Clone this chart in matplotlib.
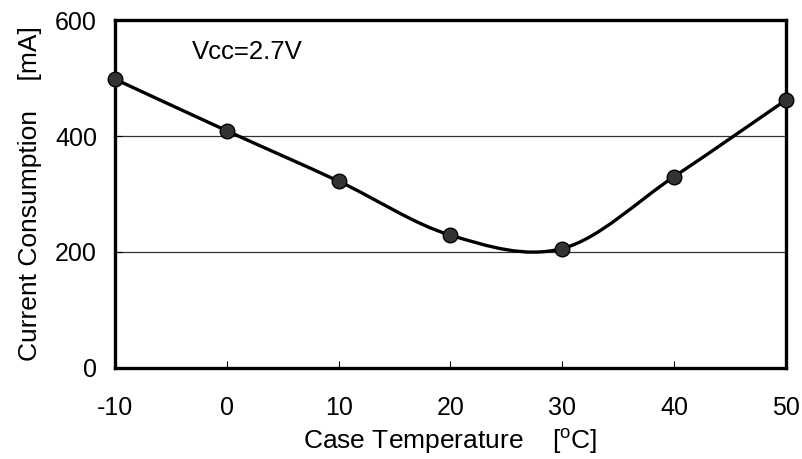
import numpy as np
import matplotlib
matplotlib.use("Agg")
import matplotlib.pyplot as plt
from matplotlib.path import Path
from matplotlib.patches import PathPatch

plt.rcParams['font.family'] = ['Liberation Sans', 'DejaVu Sans']
plt.rcParams['axes.unicode_minus'] = False

temps = [-10, 0, 10, 20, 30, 40, 50]
current = [498, 409, 322, 229, 206, 330, 462]
y_ticks = [0, 200, 400, 600]
x_ticks = [-10, 0, 10, 20, 30, 40, 50]


def smooth_path(xs, ys):
    # Excel-style smoothed line: cubic bezier segments with Catmull-Rom tangents
    n = len(xs)
    verts = [(xs[0], ys[0])]
    codes = [Path.MOVETO]
    for i in range(n - 1):
        x0, y0 = xs[max(i - 1, 0)], ys[max(i - 1, 0)]
        x1, y1 = xs[i], ys[i]
        x2, y2 = xs[i + 1], ys[i + 1]
        x3, y3 = xs[min(i + 2, n - 1)], ys[min(i + 2, n - 1)]
        c1 = (x1 + (x2 - x0) / 6, y1 + (y2 - y0) / 6)
        c2 = (x2 - (x3 - x1) / 6, y2 - (y3 - y1) / 6)
        verts += [c1, c2, (x2, y2)]
        codes += [Path.CURVE4] * 3
    return Path(verts, codes)


fig = plt.figure(figsize=(8.03, 4.59), dpi=100)
ax = fig.add_axes([0.1432, 0.1983, 0.8356, 0.7581])

for yv in [200, 400]:
    ax.axhline(yv, color='#333333', lw=0.9, zorder=1)

ax.add_patch(PathPatch(smooth_path(temps, current), fill=False,
                       edgecolor='black', lw=2.4, zorder=3, capstyle='round'))
ax.plot(temps, current, ls='none', marker='o', ms=10.5, mfc='#333333',
        mec='black', mew=1.0, zorder=4, clip_on=False)

ax.set_xlim(-10, 50)
ax.set_ylim(0, 600)
ax.set_xticks(x_ticks)
ax.set_yticks(y_ticks)
ax.tick_params(axis='x', direction='in', length=5, width=0.8, pad=20, labelsize=18)
ax.tick_params(axis='y', direction='in', length=5, width=0.8, pad=13, labelsize=18)
for s in ax.spines.values():
    s.set_linewidth(2.4)

ax.text(-3.1, 545, 'Vcc=2.7V', fontsize=18.5, ha='left', va='center')
ax.set_xlabel('Case Temperature    [$\\mathregular{^{o}}$C]', fontsize=19, labelpad=5)
ax.set_ylabel('Current Consumption    [mA]', fontsize=19, labelpad=9)

fig.savefig('out.png', dpi=100)
